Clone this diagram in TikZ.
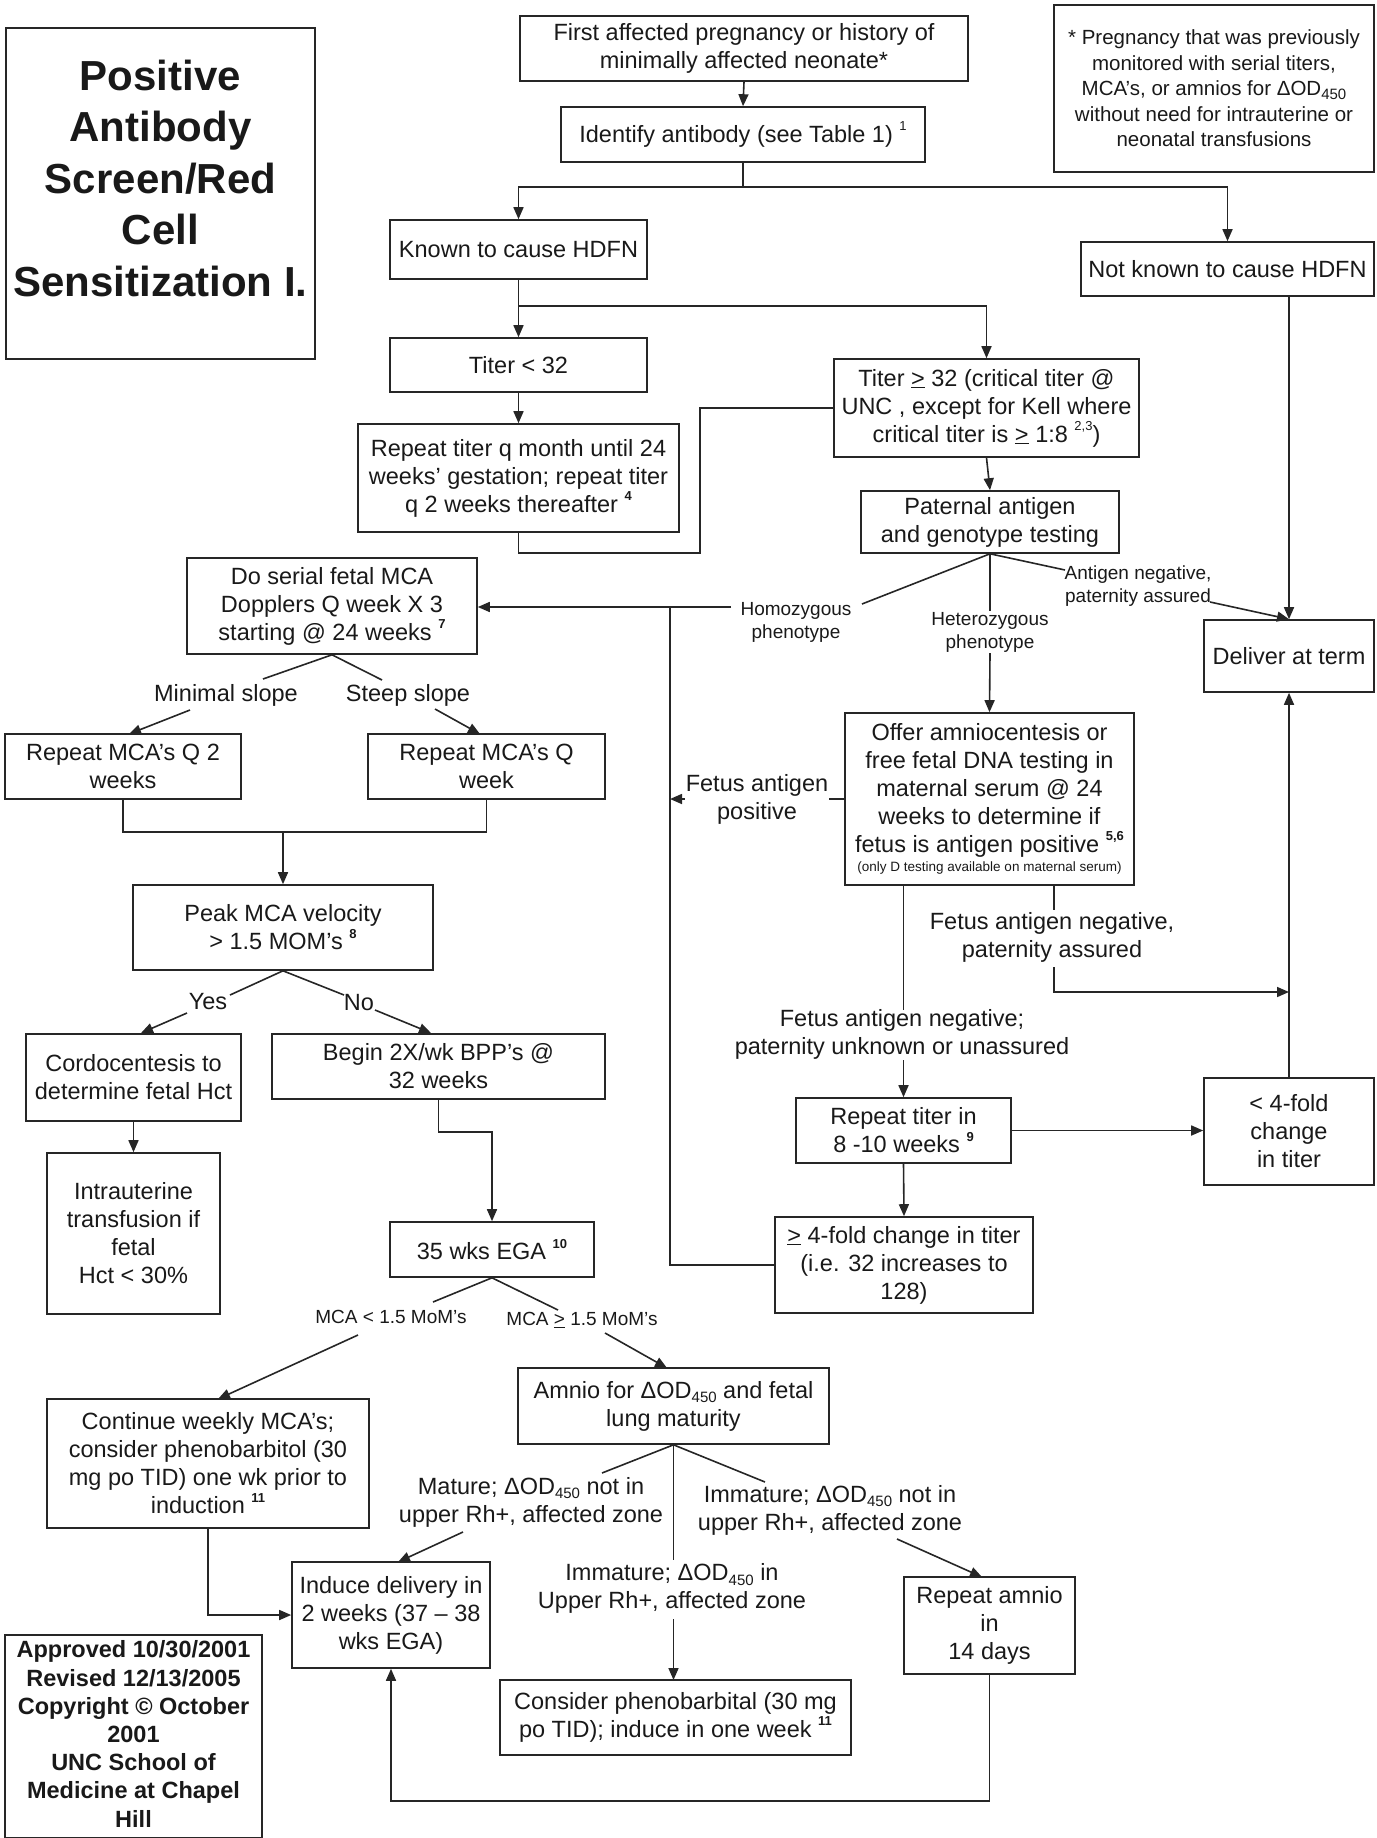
\documentclass[tikz,border=0pt]{standalone}
\usepackage{fontspec}
\setmainfont{Liberation Sans}
\usetikzlibrary{arrows.meta}
\newcommand\fmain{\fontsize{23.5}{28}\selectfont}
\newcommand\fsmall{\fontsize{19}{23}\selectfont}
\newcommand\fnote{\fontsize{20.5}{25.5}\selectfont}
\newcommand\ftitle{\fontsize{42}{51.5}\selectfont\bfseries}
\newcommand\fbold{\fontsize{23.5}{28.2}\selectfont\bfseries}
\newcommand\mysup[1]{\raisebox{0.5em}{\fontsize{13}{13}\selectfont #1}}
\newcommand\mysupb[1]{\raisebox{0.5em}{\fontsize{13}{13}\selectfont\bfseries #1}}
\newcommand\mysub[1]{\raisebox{-0.2em}{\fontsize{15}{15}\selectfont #1}}
\newcommand\uge{\underline{>}}
\begin{document}
\begin{tikzpicture}[x=1pt,y=-1pt,
  box/.style={draw=black!85, line width=1.6pt, align=center, inner sep=0pt, font=\fmain, text=black!90},
  lab/.style={align=center, inner sep=1pt, font=\fmain, text=black!90},
  slab/.style={align=center, inner sep=1pt, font=\fsmall, text=black!90},
  ln/.style={line width=1.6pt, draw=black!85},
  arr/.style={line width=1.6pt, draw=black!85, -{Triangle[length=12pt,width=10pt]}}]
\useasboundingbox (0,0) rectangle (1376,1838);

% ---------- boxes ----------
\node[box, minimum width=309, minimum height=331] (title) at (160.5,193.5) {};
\node[align=center, inner sep=0pt, font=\ftitle, text=black!90] (titletext) at (160.5,178) {Positive\\Antibody\\Screen/Red\\Cell\\Sensitization I.};

\node[box, minimum width=448, minimum height=65] (first) at (744,48.5) {First affected pregnancy or history of\\minimally affected neonate*};
\node[box, font=\fnote, minimum width=320, minimum height=167] (foot) at (1214,88.5) {* Pregnancy that was previously\\monitored with serial titers,\\MCA’s, or amnios for ΔOD\mysub{450}\\without need for intrauterine or\\neonatal transfusions};
\node[box, minimum width=364, minimum height=55] (ident) at (743,134.5) {Identify antibody (see Table 1) \mysup{1}};
\node[box, minimum width=257, minimum height=59] (known) at (518.5,249.5) {Known to cause HDFN};
\node[box, minimum width=293, minimum height=54] (notknown) at (1227.5,269) {Not known to cause HDFN};
\node[box, minimum width=257, minimum height=54] (tlow) at (518.5,365) {Titer < 32};
\node[box, minimum width=305, minimum height=98] (thigh) at (986.5,408) {Titer \uge{} 32 (critical titer @\\UNC , except for Kell where\\critical titer is \uge{} 1:8 \mysup{2,3})};
\node[box, minimum width=321, minimum height=108] (rept) at (518.5,478) {Repeat titer q month until 24\\weeks' gestation; repeat titer\\q 2 weeks thereafter \mysupb{4}};
\node[box, minimum width=258, minimum height=62] (pat) at (990,522) {Paternal antigen\\and genotype testing};
\node[box, minimum width=170, minimum height=72] (deliver) at (1289,656) {Deliver at term};
\node[box, minimum width=289, minimum height=172] (offer) at (989.5,799) {Offer amniocentesis or\\free fetal DNA testing in\\maternal serum @ 24\\weeks to determine if\\fetus is antigen positive \mysupb{5,6}\\[-9pt]{\fontsize{13.5}{16}\selectfont (only D testing available on maternal serum)}};
\node[box, minimum width=215, minimum height=65] (reptin) at (903.5,1130.5) {Repeat titer in\\8 -10 weeks \mysupb{9}};
\node[box, minimum width=170, minimum height=107] (lt4) at (1289,1131.5) {< 4-fold\\change\\in titer};
\node[box, minimum width=258, minimum height=96] (ge4) at (904,1265) {\uge{} 4-fold change in titer\\(i.e. 32 increases to\\128)};
\node[box, minimum width=290, minimum height=96] (serial) at (332,606) {Do serial fetal MCA\\Dopplers Q week X 3\\starting @ 24 weeks \mysupb{7}};
\node[box, minimum width=236, minimum height=65] (rq2) at (123,766.5) {Repeat MCA’s Q 2\\weeks};
\node[box, minimum width=237, minimum height=65] (rq1) at (486.5,766.5) {Repeat MCA’s Q\\week};
\node[box, minimum width=300, minimum height=85] (peak) at (283,927.5) {Peak MCA velocity\\> 1.5 MOM’s \mysupb{8}};
\node[box, minimum width=215, minimum height=87] (cordo) at (133.5,1077.5) {Cordocentesis to\\determine fetal Hct};
\node[box, minimum width=333, minimum height=65] (bpp) at (438.5,1066.5) {Begin 2X/wk BPP’s @\\32 weeks};
\node[box, minimum width=173, minimum height=161] (intra) at (133.5,1233.5) {Intrauterine\\transfusion if\\fetal\\Hct < 30\%};
\node[box, minimum width=204, minimum height=55] (ega) at (492,1249.5) {35 wks EGA \mysupb{10}};
\node[box, minimum width=311, minimum height=76] (amnio) at (673.5,1406) {Amnio for ΔOD\mysub{450} and fetal\\lung maturity};
\node[box, minimum width=322, minimum height=129] (cont) at (208,1463.5) {Continue weekly MCA’s;\\consider phenobarbitol (30\\mg po TID) one wk prior to\\induction \mysupb{11}};
\node[box, minimum width=198, minimum height=106] (induce) at (391,1615) {Induce delivery in\\2 weeks (37 – 38\\wks EGA)};
\node[box, minimum width=171, minimum height=97] (ramnio) at (989.5,1625.5) {Repeat amnio\\in\\14 days};
\node[box, minimum width=351, minimum height=75] (pheno) at (675.5,1717.5) {Consider phenobarbital (30 mg\\po TID); induce in one week \mysupb{11}};
\node[box, minimum width=257, minimum height=203] (appr) at (133.5,1736.5) {};
\node[align=center, inner sep=0pt, font=\fbold, text=black!90] (apprtext) at (133.5,1734) {Approved 10/30/2001\\Revised 12/13/2005\\Copyright © October\\2001\\UNC School of\\Medicine at Chapel\\Hill};

% ---------- labels ----------
\node[slab] (hom) at (796,622) {Homozygous\\phenotype};
\node[slab] (het) at (990,632) {Heterozygous\\phenotype};
\node[slab] (antneg) at (1138,586) {Antigen negative,\\paternity assured};
\node[lab] (fap) at (757,799) {Fetus antigen\\positive};
\node[lab] (fanu) at (902,1034) {Fetus antigen negative;\\paternity unknown or unassured};
\node[lab] (fana) at (1052,937.5) {Fetus antigen negative,\\paternity assured};
\node[lab] (minl) at (226,695) {Minimal slope};
\node[lab] (steep) at (408,695) {Steep slope};
\node[lab] (yes) at (208,1002) {Yes};
\node[lab] (no) at (359,1003) {No};
\node[slab] (mcal) at (391,1317) {MCA < 1.5 MoM’s};
\node[slab] (mcag) at (582,1320) {MCA \uge{} 1.5 MoM’s};
\node[lab] (mature) at (531,1502) {Mature; ΔOD\mysub{450} not in\\upper Rh+, affected zone};
\node[lab] (immin) at (672,1588.5) {Immature; ΔOD\mysub{450} in\\Upper Rh+, affected zone};
\node[lab] (immnot) at (830,1510) {Immature; ΔOD\mysub{450} not in\\upper Rh+, affected zone};

% ---------- connectors ----------
\draw[arr] (first.south) -- (ident.north);
\coordinate (j1) at (743,187);
\draw[ln] (ident.south) -- (j1);
\draw[arr] (j1) -| (known.north);
\draw[arr] (j1) -| (notknown.north);
\coordinate (j2) at (518.5,306);
\draw[arr] (known.south) -- (tlow.north);
\draw[arr] (j2) -| (thigh.north);
\draw[arr] (tlow.south) -- (rept.north);
\draw[ln] (rept.south) -- (518.5,553) -- (700,553) -- (700,408) -- (thigh.west);
\draw[arr] (thigh.south) -- (pat.north);

% paternal branches
\draw[ln] (pat.south) -- (862,604);
\draw[arr] (731,607) -- (serial.east |- 0,607);
\draw[ln] (pat.south) -- (het.north);
\draw[arr] (het.south) -- (offer.north);
\draw[ln] (pat.south) -- (1065,570);
\draw[arr] (1210,602) -- (deliver.north);
\draw[arr] (notknown.south -| deliver.north) -- (deliver.north);

% offer branches
\draw[ln] (offer.west) -- (fap.east);
\draw[arr] (fap.west) -- (670,799);
\draw[ln] (ge4.west) -- (670,1265) -- (670,607);
\draw[ln] (offer.south -| reptin.north) -- (903.5,1010);
\draw[arr] (fanu.south -| reptin.north) -- (reptin.north);
\draw[ln] (1054,885) -- (1054,910);
\draw[arr] (1054,967) -- (1054,992) -- (1289,992);
\draw[arr] (reptin.east) -- (reptin.east -| lt4.west);
\draw[arr] (reptin.south) -- (ge4.north);
\draw[arr] (lt4.north) -- (deliver.south);

% MCA branches
\draw[ln] (serial.south) -- (263,679);
\draw[arr] (190,710) -- (129,734);
\draw[ln] (serial.south) -- (382,680);
\draw[arr] (435,709) -- (480,734);
\draw[ln] (rq2.south) -- ++(0,32) -| (rq1.south);
\draw[arr] (283,831) -- (peak.north);
\draw[ln] (peak.south) -- (230,995);
\draw[arr] (187,1013) -- (141,1033);
\draw[ln] (peak.south) -- (344,995);
\draw[arr] (375,1010) -- (431,1033);
\draw[arr] (cordo.south) -- (intra.north);
\draw[arr] (bpp.south) -- (438.5,1132) -| (ega.north);
\draw[ln] (ega.south) -- (433,1302);
\draw[arr] (358,1335) -- (218,1399);
\draw[ln] (ega.south) -- (558,1310);
\draw[arr] (605,1333) -- (667,1368);
\draw[arr] (cont.south) -- (208,1615) -- (induce.west);
\draw[ln] (amnio.south) -- (602,1473);
\draw[arr] (463,1532) -- (398,1562);
\draw[ln] (amnio.south) -- (673.5,1560);
\draw[arr] (673.5,1619) -- (673.5,1680);
\draw[ln] (amnio.south) -- (765,1482);
\draw[arr] (897,1539) -- (982,1577);
\draw[arr] (ramnio.south) -- (989.5,1801) -| (induce.south);
\end{tikzpicture}
\end{document}
